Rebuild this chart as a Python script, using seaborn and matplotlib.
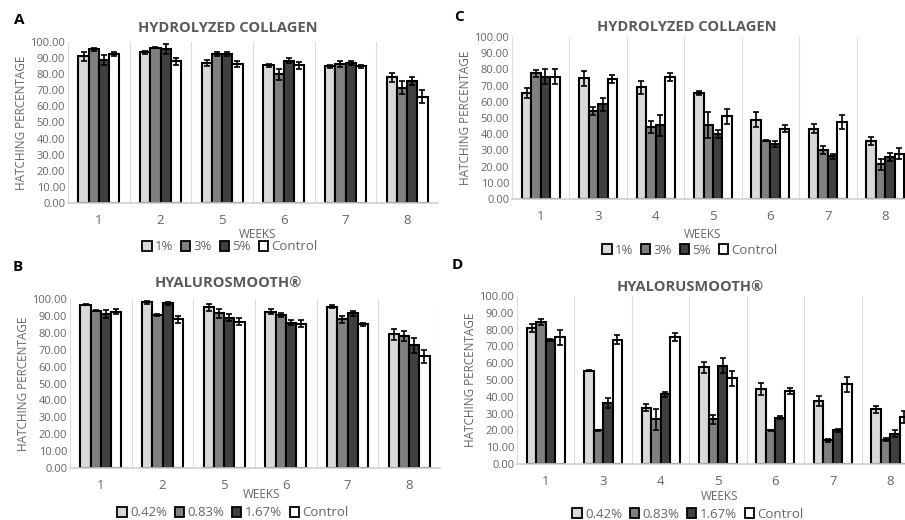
import numpy as np
import pandas as pd
import matplotlib
matplotlib.use("Agg")
import matplotlib.pyplot as plt
import seaborn as sns
from matplotlib.patches import Patch

# weeks on the x axis
weeks_ab = ["1", "2", "5", "6", "7", "8"]
weeks_cd = ["1", "3", "4", "5", "6", "7", "8"]

groups_hc = ["1%", "3%", "5%", "Control"]
groups_hs = ["0.42%", "0.83%", "1.67%", "Control"]

# Panel A - hydrolyzed collagen
a_1 = [91, 93.5, 87, 85.5, 85, 78]
a_3 = [95.5, 96.5, 92.5, 80, 86.5, 71.5]
a_5 = [89, 95.5, 92.5, 88.5, 87, 76]
a_ctrl = [92.5, 88, 86.5, 85.5, 85, 66]
a_err_1 = [3, 1, 2, 1, 1, 3]
a_err_3 = [1, 0.5, 1.5, 3.5, 2, 4]
a_err_5 = [3, 3, 1, 1.5, 1, 2.5]
a_err_ctrl = [1.5, 2, 2, 2, 1, 4]

# Panel B - hyalurosmooth
b_042 = [96.5, 98, 95, 92.5, 95.5, 79]
b_083 = [93, 90.5, 91.5, 90.5, 88, 78]
b_167 = [91, 97.5, 89, 86, 91.5, 72.5]
b_ctrl = [92.5, 88, 86.5, 85.5, 85, 66]
b_err_042 = [0.3, 1, 2, 1.5, 1, 3.5]
b_err_083 = [0.2, 0.5, 2.5, 1, 2, 3]
b_err_167 = [2.5, 0.8, 2, 1.5, 1.5, 4.5]
b_err_ctrl = [1.5, 2, 2, 2, 0.8, 4]

# Panel C - hydrolyzed collagen
c_1 = [65.5, 74.5, 69, 65.5, 49, 43.5, 36]
c_3 = [77.5, 54.5, 44.5, 45.5, 36, 30.5, 21.5]
c_5 = [75.5, 58.5, 45.5, 40, 34, 26.5, 26]
c_ctrl = [75.5, 74, 75.5, 51, 43.5, 47.5, 28]
c_err_1 = [3, 4.5, 4, 1, 4.5, 3, 2.5]
c_err_3 = [2, 2.5, 3.5, 8, 0.5, 2.5, 3.5]
c_err_5 = [4.5, 4, 6.5, 2.5, 2, 1.5, 2.5]
c_err_ctrl = [4.5, 2.5, 2.5, 4.5, 2, 4.5, 3.5]

# Panel D - hyalorusmooth
d_042 = [81, 55.5, 33.5, 57.5, 44.5, 37.5, 32.5]
d_083 = [84.5, 20, 26.5, 26.5, 20, 14, 14.5]
d_167 = [74, 36.5, 41.5, 58.5, 27.5, 20, 18]
d_ctrl = [75.5, 74, 75.5, 51, 43.5, 47.5, 28]
d_err_042 = [2.5, 0.2, 2, 3.5, 3.5, 3, 2]
d_err_083 = [2, 0.5, 6, 2.5, 0.5, 1, 1]
d_err_167 = [0.5, 3, 1.5, 4.5, 1, 0.8, 2]
d_err_ctrl = [4.5, 2.5, 2.5, 4.5, 2, 4.5, 3.5]

colors = ["#d9d9d9", "#808080", "#404040", "#ffffff"]

sns.set_theme(style="white")
plt.rcParams["font.family"] = ["Open Sans", "DejaVu Sans"]

W, H = 905, 520
fig = plt.figure(figsize=(W / 100, H / 100), dpi=100)

TICK_C = "#666666"
TITLE_C = "#5a5a5a"


def fx(x):
    return x / W


def fy(y):
    return 1 - y / H


def draw_panel(rect, weeks, names, vals, errs, title, letter, pos):
    ax = fig.add_axes(rect)
    df = pd.DataFrame({
        "week": np.repeat([weeks], len(names), axis=0).ravel(),
        "group": np.repeat(names, len(weeks)),
        "value": np.concatenate(vals),
    })
    sns.barplot(data=df, x="week", y="value", hue="group", order=weeks,
                hue_order=names, palette=colors, width=0.66, errorbar=None,
                edgecolor="black", linewidth=1.5, saturation=1, ax=ax,
                legend=False)
    # error bars on top of each bar
    for cont, err in zip(ax.containers, errs):
        xs = [b.get_x() + b.get_width() / 2 for b in cont]
        ys = [b.get_height() for b in cont]
        ax.errorbar(xs, ys, yerr=err, fmt="none", ecolor="black",
                    elinewidth=1.2, capsize=2, capthick=1.2, zorder=5)
    n = len(weeks)
    ax.set_xlim(-0.5, n - 0.5)
    ax.set_ylim(0, 100)
    ax.set_yticks(np.arange(0, 101, 10))
    ax.set_yticklabels([f"{v:.2f}" for v in np.arange(0, 101, 10)])
    for k in range(n + 1):
        ax.axvline(k - 0.5, color="#dcdcdc", lw=0.8, zorder=0)
    for s in ["left", "right", "top"]:
        ax.spines[s].set_visible(False)
    ax.spines["bottom"].set_color("#d0d0d0")
    ax.spines["bottom"].set_linewidth(1.2)
    ax.tick_params(axis="y", length=0, labelsize=8, labelcolor=TICK_C, pad=2)
    ax.tick_params(axis="x", length=0, labelsize=9.5, labelcolor=TICK_C, pad=8)
    ax.set_xlabel("")
    ax.set_ylabel("HATCHING PERCENTAGE", fontsize=8.5, color=TICK_C, labelpad=2)

    tx, ty, wx, wy, lx, ly, px, py = pos
    fig.text(fx(tx), fy(ty), title, ha="center", va="center", fontsize=10.5,
             fontweight="bold", color=TITLE_C)
    fig.text(fx(wx), fy(wy), "WEEKS", ha="center", va="center", fontsize=8.5,
             color=TICK_C)
    fig.text(fx(px), fy(py), letter, ha="center", va="center", fontsize=11,
             fontweight="bold", color="black")
    handles = [Patch(facecolor=c, edgecolor="black", linewidth=1.3) for c in colors]
    fig.legend(handles, names, loc="center", bbox_to_anchor=(fx(lx), fy(ly)),
               ncol=4, frameon=False, fontsize=9.5, handlelength=0.7,
               handleheight=0.7, handletextpad=0.25, columnspacing=0.6,
               labelcolor=TICK_C, borderpad=0)
    return ax


draw_panel([fx(68), fy(203), fx(438 - 68), (203 - 42) / H], weeks_ab, groups_hc,
           [a_1, a_3, a_5, a_ctrl], [a_err_1, a_err_3, a_err_5, a_err_ctrl],
           "HYDROLYZED COLLAGEN", "A", (228, 28, 258, 234, 230, 247, 19, 20))

draw_panel([fx(512), fy(199), fx(914 - 512), (199 - 37) / H], weeks_cd, groups_hc,
           [c_1, c_3, c_5, c_ctrl], [c_err_1, c_err_3, c_err_5, c_err_ctrl],
           "HYDROLYZED COLLAGEN", "C", (687, 27, 703, 235, 690, 250, 459, 17))

draw_panel([fx(70), fy(468), fx(440 - 70), (468 - 299) / H], weeks_ab, groups_hs,
           [b_042, b_083, b_167, b_ctrl], [b_err_042, b_err_083, b_err_167, b_err_ctrl],
           "HYALUROSMOOTH®", "B", (228, 283, 262, 495, 233, 513, 18, 267))

draw_panel([fx(517), fy(464), fx(919 - 517), (464 - 296) / H], weeks_cd, groups_hs,
           [d_042, d_083, d_167, d_ctrl], [d_err_042, d_err_083, d_err_167, d_err_ctrl],
           "HYALORUSMOOTH®", "D", (690, 287, 720, 497, 688, 514, 457, 265))

fig.savefig("out.png", dpi=100)
